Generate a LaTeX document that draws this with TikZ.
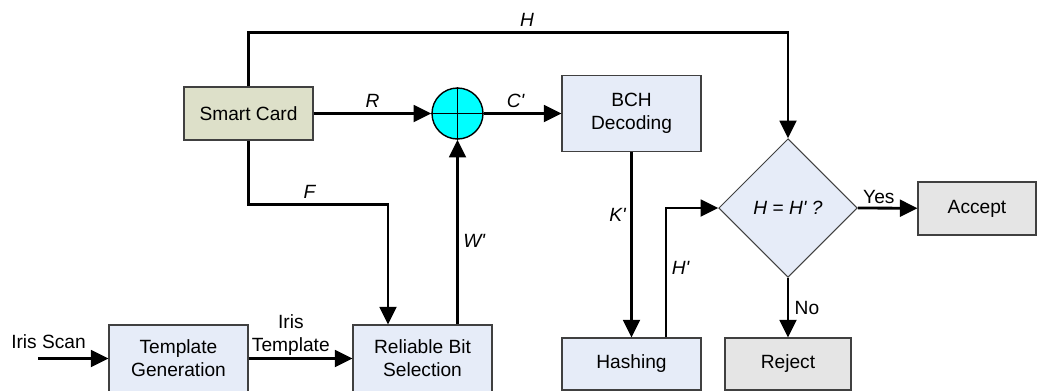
\documentclass[tikz,border=0pt]{standalone}
\usepackage{fontspec}
\setmainfont{Liberation Sans}
\usepackage{tikz}
\usetikzlibrary{shapes.geometric, arrows.meta, positioning, calc}
\usepackage{xcolor}
\definecolor{boxblue}{RGB}{230, 236, 248}
\definecolor{cardgreen}{RGB}{221, 224, 201}
\definecolor{boxgray}{RGB}{229, 229, 229}
\definecolor{edgegray}{RGB}{64, 64, 64}
\definecolor{xorcyan}{RGB}{0, 255, 255}

\begin{document}
\begin{tikzpicture}[
    x=0.02cm, y=-0.02cm,
    font=\fontsize{10.9pt}{13pt}\selectfont,
    block/.style={rectangle, draw=edgegray, fill=boxblue, align=center, inner sep=2pt, line width=0.6pt, minimum width=2.78cm},
    cardbox/.style={block, fill=cardgreen, minimum width=2.58cm, minimum height=1.06cm},
    endbox/.style={block, fill=boxgray},
    decision/.style={diamond, draw=edgegray, fill=boxblue, aspect=1, inner sep=0pt, minimum size=2.77cm, line width=0.6pt},
    xorop/.style={circle, draw=black, fill=xorcyan, inner sep=0pt, minimum size=1.02cm, line width=0.8pt},
    lbl/.style={inner sep=2.5pt, font=\fontsize{10.9pt}{13pt}\selectfont\itshape},
    arrow/.style={-{Triangle[length=10pt, width=9.5pt]}, line width=1.6pt, draw=black}
]
    \path[use as bounding box, clip] (0,0) rectangle (1037,390);

    \node[cardbox] (card) at (248.5,113.5) {Smart Card};
    \node[block, minimum height=1.34cm] (tgen) at (178.5,358.5) {Template\\Generation};
    \node[block, minimum height=1.34cm] (rbs) at (422.5,358.5) {Reliable Bit\\Selection};
    \node[xorop] (xor) at (457.5,113.5) {};
    \node[block, minimum height=1.52cm] (bch) at (631.5,113.5) {BCH\\Decoding};
    \node[block, minimum height=1.04cm] (hash) at (631.5,364) {Hashing};
    \node[decision] (check) at (788,208) {\textit{H} = \textit{H\textquotesingle\ ?}};
    \node[endbox, minimum width=2.36cm, minimum height=1.06cm] (accept) at (977,208.5) {Accept};
    \node[endbox, minimum width=2.52cm, minimum height=1.04cm] (reject) at (788,364) {Reject};
    \node (scan) at (48.5,342) {Iris Scan};
    \coordinate (scanin) at (38,358.5);

    % xor cross
    \draw[line width=0.8pt] (xor.north) -- (xor.south);
    \draw[line width=0.8pt] (xor.west) -- (xor.east);

    \draw[arrow] (scanin) -- (tgen);
    \draw[arrow] (tgen) -- node[above, align=center, inner sep=1pt, xshift=-5.5] (tmpl) {Iris\\Template} (rbs);
    \draw[arrow] (card.north) -- ++(0,-54) -| node[lbl, above, pos=0.25, xshift=5] {H} (check.north);
    \draw[arrow] (card) -- node[lbl, above] {R} (xor);
    \draw[arrow] (xor) -- node[lbl, above, xshift=-4] {C\textquotesingle} (bch);
    \draw[arrow] (card.south) -- ++(0,64) -| node[lbl, above, pos=0.25, xshift=-5] {F} ($(rbs.north)+(-34.5,0)$);
    \draw[arrow] (rbs.north -| xor.south) -- node[lbl, right, pos=0.45] {W\textquotesingle} (xor.south);
    \draw[arrow] (bch.south) -- node[lbl, left, pos=0.34] {K\textquotesingle} (hash.north);
    \draw[arrow] ($(hash.north)+(34.5,0)$) |- node[lbl, right, pos=0.27] {H\textquotesingle} (check.west);
    \draw[arrow] (check.east) -- node[above, inner sep=2pt, xshift=-5] {Yes} (accept);
    \draw[arrow] (check.south) -- node[right, inner sep=3pt] {No} (reject);
\end{tikzpicture}
\end{document}
